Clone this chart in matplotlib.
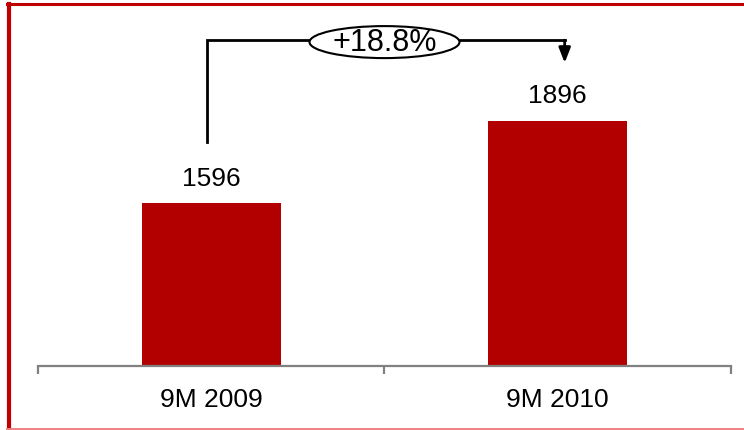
import numpy as np
import matplotlib
matplotlib.use("Agg")
from matplotlib import pyplot as plt
from matplotlib.patches import Ellipse
from matplotlib.lines import Line2D

# nine-month totals
periods = ["9M 2009", "9M 2010"]
totals = [1596, 1896]

bar_color = "#B20000"
frame_color = "#C00000"

plt.rcParams["font.family"] = ["Liberation Sans", "DejaVu Sans"]

W, H = 744, 431
fig = plt.figure(figsize=(W / 100, H / 100), dpi=100)
fig.patch.set_facecolor("white")

# axes placed in pixels: baseline 367 px from the top
ax = fig.add_axes([38 / W, 64 / H, (731 - 38) / W, (H - 64) / H])
px_per_unit = 0.2738
ymin = 1000
ax.set_ylim(ymin, ymin + 367 / px_per_unit)
ax.set_xlim(-0.5, 1.5)

x = np.arange(len(periods))
vals = np.array(totals)
ax.bar(x, vals - ymin, bottom=ymin, width=0.4, color=bar_color)

for xi, v in zip(x, vals):
    ax.text(xi, v + 92, str(v), ha="center", va="center", fontsize=19)

# axis styling
for s in ["top", "right", "left"]:
    ax.spines[s].set_visible(False)
ax.spines["bottom"].set_color("#808080")
ax.spines["bottom"].set_linewidth(1.6)
ax.set_yticks([])
ax.set_xticks(x)
ax.set_xticklabels(periods, fontsize=19)
ax.tick_params(axis="x", which="major", length=0, pad=15)
ax.set_xticks([-0.5, 0.5, 1.5], minor=True)
ax.tick_params(axis="x", which="minor", length=6, width=1.6, color="#808080", direction="out")

# growth bracket between the two bars
growth = (vals[1] / vals[0] - 1) * 100
bracket_y = vals.max() + 294
left_x, right_x = x[0] - 0.012, x[1] + 0.02
ax.plot([left_x, left_x, right_x], [vals[0] + 222, bracket_y, bracket_y],
        color="black", lw=2, solid_joinstyle="miter", zorder=3)
ax.annotate("", xy=(right_x, vals[1] + 211), xytext=(right_x, bracket_y),
            arrowprops=dict(arrowstyle="-|>,head_length=0.9,head_width=0.35",
                            color="black", lw=2, shrinkA=0, shrinkB=0),
            zorder=3)
ell = Ellipse((0.5, bracket_y - 7), width=150 / 346.5, height=32 / px_per_unit,
              facecolor="white", edgecolor="black", lw=1.5, zorder=4)
ax.add_patch(ell)
ax.text(0.5, bracket_y - 6, f"+{growth:.1f}%", ha="center", va="center",
        fontsize=22, zorder=5)

# red frame around the panel
fig.add_artist(Line2D([9 / W, 9 / W], [1 - 4.5 / H, 1.5 / H], color=frame_color,
                      lw=3, transform=fig.transFigure))
fig.add_artist(Line2D([7 / W, 1.0], [1 - 4.5 / H, 1 - 4.5 / H], color=frame_color,
                      lw=2.2, transform=fig.transFigure))
fig.add_artist(Line2D([7 / W, 1.0], [1.5 / H, 1.5 / H], color="#F08080",
                      lw=1.4, transform=fig.transFigure))

fig.savefig("out.png", dpi=100)
